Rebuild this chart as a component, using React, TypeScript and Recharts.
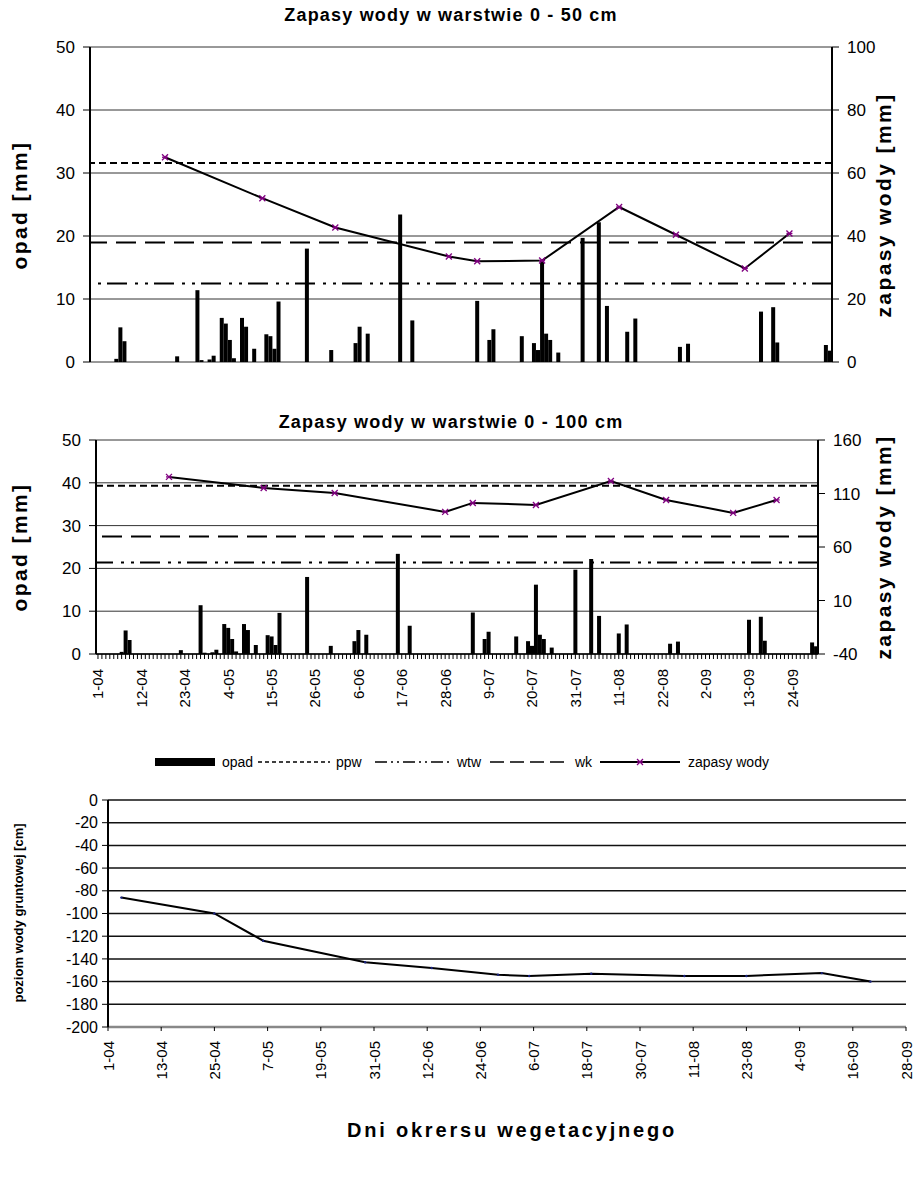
import {
  Bar,
  CartesianGrid,
  ComposedChart,
  Line,
  LineChart,
  ReferenceLine,
  XAxis,
  YAxis,
} from "recharts";

const FONT = "Arial, 'Liberation Sans', sans-serif";
const PURPLE = "#800080";

// kolejne dni okresu wegetacyjnego: 1-04 ... 30-09
const MONTHS = [
  { m: "04", n: 30 },
  { m: "05", n: 31 },
  { m: "06", n: 30 },
  { m: "07", n: 31 },
  { m: "08", n: 31 },
  { m: "09", n: 30 },
];
const DAYS: string[] = MONTHS.flatMap(({ m, n }) =>
  Array.from({ length: n }, (_, i) => `${i + 1}-${m}`)
);

// opad dobowy [mm]
const OPAD_DATES = [
  "7-04", "8-04", "9-04", "22-04", "27-04", "28-04", "30-04", "1-05", "3-05", "4-05",
  "5-05", "6-05", "8-05", "9-05", "11-05", "14-05", "15-05", "16-05", "17-05", "24-05",
  "30-05", "5-06", "6-06", "8-06", "16-06", "19-06", "5-07", "8-07", "9-07", "16-07",
  "19-07", "20-07", "21-07", "22-07", "23-07", "25-07", "31-07", "4-08", "6-08", "11-08",
  "13-08", "24-08", "26-08", "13-09", "16-09", "17-09", "29-09", "30-09",
];
const OPAD = [
  0.5, 5.5, 3.3, 0.9, 11.4, 0.3, 0.4, 1.0, 7.0, 6.1,
  3.5, 0.6, 7.0, 5.6, 2.1, 4.4, 4.1, 2.1, 9.6, 18.0,
  1.9, 3.0, 5.6, 4.5, 23.4, 6.6, 9.7, 3.5, 5.2, 4.1,
  3.0, 1.9, 16.2, 4.5, 3.5, 1.5, 19.7, 22.2, 8.9, 4.8,
  6.9, 2.4, 2.9, 8.0, 8.7, 3.1, 2.7, 1.8,
];

// zapasy wody [mm]
const ZAPASY_DATES = ["19-04", "13-05", "31-05", "28-06", "5-07", "21-07", "9-08", "23-08", "9-09", "20-09"];
const ZAPASY_50 = [65, 52, 42.7, 33.5, 32, 32.2, 49.2, 40.4, 29.7, 40.8];
const ZAPASY_100 = [125.5, 115.2, 110.5, 92.8, 101.2, 99.3, 121.7, 104, 91.9, 104];

// poziomy odniesienia: ppw, wk, wtw
const LEVELS_50 = { ppw: 63.2, wk: 37.9, wtw: 24.9 };
const LEVELS_100 = { ppw: 117.3, wk: 69.8, wtw: 45.5 };

// poziom wody gruntowej [cm]
const GW_DATES = ["4-04", "25-04", "6-05", "29-05", "13-06", "28-06", "5-07", "19-07", "9-08", "23-08", "9-09", "20-09"];
const GW = [-86, -100, -124, -143, -148, -154, -155, -153, -155, -155, -152.5, -160];

const GW_TICKS_X = [0, 12, 24, 36, 48, 60, 72, 84, 96, 108, 120, 132, 144, 156, 168, 180];
const GW_TICKS_Y = [0, -20, -40, -60, -80, -100, -120, -140, -160, -180, -200];

const rows = DAYS.map((date) => {
  const o = OPAD_DATES.indexOf(date);
  const z = ZAPASY_DATES.indexOf(date);
  return {
    date,
    opad: o >= 0 ? OPAD[o] : null,
    z50: z >= 0 ? ZAPASY_50[z] : null,
    z100: z >= 0 ? ZAPASY_100[z] : null,
  };
});

const gwRows = GW_DATES.map((d, i) => ({ day: DAYS.indexOf(d), gw: GW[i] }));

const DASH = { ppw: "7 4", wk: "20 9", wtw: "20 6 3 7 3 8" };

function Star(p: any) {
  const { cx, cy, value, index } = p;
  if (value == null || cx == null || cy == null) return <g key={index} />;
  const s = 3;
  return (
    <g key={index} stroke={PURPLE} strokeWidth={1.3}>
      <line x1={cx - s} y1={cy - s} x2={cx + s} y2={cy + s} />
      <line x1={cx - s} y1={cy + s} x2={cx + s} y2={cy - s} />
      <line x1={cx - s} y1={cy} x2={cx + s} y2={cy} />
    </g>
  );
}

function DateTick(p: any) {
  const { x, y, payload, index, every, size } = p;
  if (every && index % every !== 0) return <g />;
  const ty = y + 8;
  return (
    <text
      x={x}
      y={ty}
      transform={`rotate(-90 ${x} ${ty})`}
      textAnchor="end"
      dominantBaseline="central"
      fontFamily={FONT}
      fontSize={size}
      fill="#000"
    >
      {p.fmt ? p.fmt(payload.value) : payload.value}
    </text>
  );
}

function Rotated({ text, x, y, size = 21, spacing = 2.4 }: any) {
  return (
    <div
      style={{
        position: "absolute",
        left: x,
        top: y,
        transform: "translate(-50%, -50%) rotate(-90deg)",
        whiteSpace: "nowrap",
        fontFamily: FONT,
        fontWeight: "bold",
        fontSize: size,
        letterSpacing: spacing,
      }}
    >
      {text}
    </div>
  );
}

function Title({ text, x, y, size = 18, spacing = 1.2 }: any) {
  return (
    <div
      style={{
        position: "absolute",
        left: x,
        top: y,
        transform: "translate(-50%, -50%)",
        whiteSpace: "nowrap",
        fontFamily: FONT,
        fontWeight: "bold",
        fontSize: size,
        letterSpacing: spacing,
      }}
    >
      {text}
    </div>
  );
}

const tickStyle = { fontFamily: FONT, fontSize: 17, fill: "#000" };

function StorageChart({ zKey, levels, rightDomain, rightTicks, showDates, height, margin }: any) {
  return (
    <ComposedChart width={918} height={height} data={rows} margin={margin} barCategoryGap={0}>
      <CartesianGrid yAxisId="left" vertical={false} stroke="#333" strokeWidth={1} />
      <XAxis
        dataKey="date"
        hide={!showDates}
        interval={0}
        height={showDates ? 72 : 0}
        tickSize={5}
        tickLine={{ stroke: "#000" }}
        axisLine={{ stroke: "#000", strokeWidth: 1.5 }}
        tick={<DateTick every={11} size={15} />}
      />
      <YAxis
        yAxisId="left"
        domain={[0, 50]}
        ticks={[0, 10, 20, 30, 40, 50]}
        interval={0}
        width={56}
        tickSize={7}
        tickMargin={8}
        tick={tickStyle}
        tickLine={{ stroke: "#000" }}
        axisLine={{ stroke: "#000", strokeWidth: 2 }}
      />
      <YAxis
        yAxisId="right"
        orientation="right"
        domain={rightDomain}
        ticks={rightTicks}
        interval={0}
        width={50}
        tickSize={7}
        tickMargin={8}
        tick={tickStyle}
        tickLine={{ stroke: "#000" }}
        axisLine={{ stroke: "#000", strokeWidth: 2 }}
      />
      <ReferenceLine yAxisId="right" y={levels.ppw} stroke="#000" strokeWidth={2} strokeDasharray={DASH.ppw} />
      <ReferenceLine yAxisId="right" y={levels.wtw} stroke="#000" strokeWidth={2} strokeDasharray={DASH.wtw} />
      <ReferenceLine yAxisId="right" y={levels.wk} stroke="#000" strokeWidth={2} strokeDasharray={DASH.wk} />
      <Bar yAxisId="left" dataKey="opad" fill="#000" isAnimationActive={false} />
      <Line
        yAxisId="right"
        dataKey={zKey}
        stroke="#000"
        strokeWidth={2}
        connectNulls
        dot={(p: any) => <Star {...p} />}
        activeDot={false}
        isAnimationActive={false}
      />
    </ComposedChart>
  );
}

function Legend() {
  const y = 762;
  const t = { fontFamily: FONT, fontSize: 14, fill: "#000" };
  return (
    <svg width={918} height={30} style={{ position: "absolute", left: 0, top: y - 15 }}>
      <rect x={155} y={11} width={60} height={8} fill="#000" />
      <text x={222} y={20} {...t}>opad</text>
      <line x1={258} x2={330} y1={15} y2={15} stroke="#000" strokeWidth={1.5} strokeDasharray="4 3" />
      <text x={336} y={20} {...t}>ppw</text>
      <line x1={375} x2={450} y1={15} y2={15} stroke="#000" strokeWidth={1.5} strokeDasharray="12 4 2 4 2 4" />
      <text x={457} y={20} {...t}>wtw</text>
      <line x1={490} x2={567} y1={15} y2={15} stroke="#000" strokeWidth={1.5} strokeDasharray="14 6" />
      <text x={575} y={20} {...t}>wk</text>
      <line x1={600} x2={680} y1={15} y2={15} stroke="#000" strokeWidth={2} />
      <Star cx={640} cy={15} value={1} index={0} />
      <text x={688} y={20} {...t}>zapasy wody</text>
    </svg>
  );
}

export default function App() {
  return (
    <div
      style={{
        position: "absolute",
        left: 0,
        top: 0,
        width: 918,
        height: 1177,
        background: "#fff",
        fontFamily: FONT,
      }}
    >
      {/* 0 - 50 cm */}
      <div style={{ position: "absolute", left: 0, top: 0 }}>
        <StorageChart
          zKey="z50"
          levels={LEVELS_50}
          rightDomain={[0, 100]}
          rightTicks={[0, 20, 40, 60, 80, 100]}
          showDates={false}
          height={380}
          margin={{ top: 47, right: 36, bottom: 18, left: 34 }}
        />
      </div>
      <Title text="Zapasy wody w warstwie 0 - 50 cm" x={451} y={15} />
      <Rotated text="opad [mm]" x={20} y={205} />
      <Rotated text="zapasy wody [mm]" x={884} y={205} />

      {/* 0 - 100 cm */}
      <div style={{ position: "absolute", left: 0, top: 420 }}>
        <StorageChart
          zKey="z100"
          levels={LEVELS_100}
          rightDomain={[-40, 160]}
          rightTicks={[-40, 10, 60, 110, 160]}
          showDates
          height={320}
          margin={{ top: 20, right: 50, bottom: 14, left: 40 }}
        />
      </div>
      <Title text="Zapasy wody w warstwie 0 - 100 cm" x={451} y={422} />
      <Rotated text="opad [mm]" x={20} y={547} />
      <Rotated text="zapasy wody [mm]" x={884} y={547} />

      <Legend />

      {/* poziom wody gruntowej */}
      <div style={{ position: "absolute", left: 0, top: 780 }}>
        <LineChart width={918} height={300} data={gwRows} margin={{ top: 20, right: 12, bottom: 3, left: 40 }}>
          <CartesianGrid vertical={false} stroke="#111" strokeWidth={1.5} />
          <XAxis
            type="number"
            dataKey="day"
            domain={[0, 180]}
            ticks={GW_TICKS_X}
            interval={0}
            height={50}
            tickSize={4}
            tickLine={{ stroke: "#000" }}
            axisLine={{ stroke: "#888", strokeWidth: 2.5 }}
            tick={<DateTick size={15} fmt={(v: number) => DAYS[v]} />}
          />
          <YAxis
            domain={[-200, 0]}
            ticks={GW_TICKS_Y}
            interval={0}
            width={68}
            tickSize={6}
            tickMargin={4}
            tick={{ fontFamily: FONT, fontSize: 16, fill: "#000" }}
            tickLine={{ stroke: "#000" }}
            axisLine={{ stroke: "#000", strokeWidth: 2 }}
          />
          <Line
            dataKey="gw"
            stroke="#000"
            strokeWidth={2}
            dot={{ r: 1.2, fill: "#1a237e", stroke: "none" }}
            activeDot={false}
            isAnimationActive={false}
          />
        </LineChart>
      </div>
      <Rotated text="poziom wody gruntowej [cm]" x={18} y={913} size={13} spacing={0} />
      <Title text="Dni okrersu wegetacyjnego" x={512} y={1130} size={20} spacing={2.8} />
    </div>
  );
}
